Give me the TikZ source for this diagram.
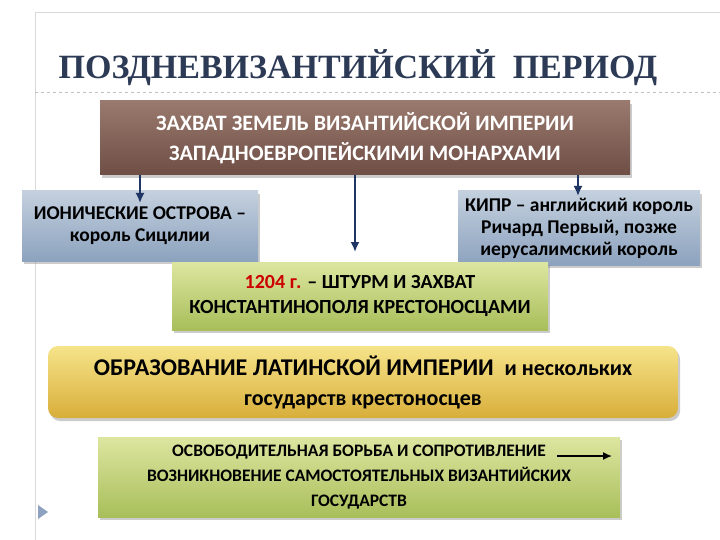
\documentclass[tikz,border=0pt]{standalone}
\usepackage{fontspec}
\setmainfont{Carlito}
\newfontfamily\titlefont{Liberation Serif}
\usetikzlibrary{shadows,arrows.meta}
\definecolor{brtop}{HTML}{9A7A6E}
\definecolor{brbot}{HTML}{6E4E45}
\definecolor{bltop}{HTML}{C4D0DE}
\definecolor{blbot}{HTML}{8CA2BE}
\definecolor{grtop}{HTML}{DDE6A0}
\definecolor{grbot}{HTML}{A8BE5A}
\definecolor{yetop}{HTML}{F6E48A}
\definecolor{yebot}{HTML}{D8AE3A}
\definecolor{ttl}{HTML}{2C3A55}
\definecolor{arrc}{HTML}{1F3563}
\begin{document}
\begin{tikzpicture}[x=1pt,y=-1pt,
 box/.style={draw=none,align=center,font=\bfseries\fontsize{22}{30}\selectfont,inner sep=2pt,drop shadow={shadow xshift=2pt,shadow yshift=-3pt,opacity=0.4}},
 arr/.style={-{Latex[length=10pt,width=9pt]},line width=1.8pt,draw=arrc}]
\useasboundingbox (0,0) rectangle (720,540);
\fill[white] (0,0) rectangle (720,540);
\draw[gray!30] (35,12) -- (720,12);
\draw[gray!30] (35,12) -- (35,540);
\draw[gray!50,dashed] (35,92) -- (720,92);
\node[font=\titlefont\bfseries\fontsize{34}{40}\selectfont,text=ttl] (title) at (358,68) {ПОЗДНЕВИЗАНТИЙСКИЙ\ \ ПЕРИОД};
\node[box,minimum width=530pt,minimum height=74pt,top color=brtop,bottom color=brbot,text=white] (cap) at (365,138) {ЗАХВАТ ЗЕМЕЛЬ ВИЗАНТИЙСКОЙ ИМПЕРИИ\\ЗАПАДНОЕВРОПЕЙСКИМИ МОНАРХАМИ};
\node[box,minimum width=236pt,minimum height=70pt,top color=bltop,bottom color=blbot,font=\bfseries\fontsize{19.5}{22}\selectfont] (ion) at (140,226) {ИОНИЧЕСКИЕ ОСТРОВА --\\король Сицилии};
\node[box,minimum width=242pt,minimum height=74pt,top color=bltop,bottom color=blbot,font=\bfseries\fontsize{19.5}{22}\selectfont] (cyp) at (579,228) {КИПР -- английский король\\Ричард Первый, позже\\иерусалимский король};
\node[box,minimum width=376pt,minimum height=68pt,top color=grtop,bottom color=grbot,font=\bfseries\fontsize{20}{25}\selectfont] (sack) at (360,296) {\textcolor{red!80!black}{1204 г.} -- ШТУРМ И ЗАХВАТ\\КОНСТАНТИНОПОЛЯ КРЕСТОНОСЦАМИ};
\node[box,rounded corners=10pt,minimum width=630pt,minimum height=72pt,top color=yetop,bottom color=yebot,font=\bfseries\fontsize{24}{30}\selectfont] (lat) at (363,382) {ОБРАЗОВАНИЕ ЛАТИНСКОЙ ИМПЕРИИ\ \ {\fontsize{22}{30}\selectfont и нескольких}\\{\fontsize{22}{30}\selectfont государств крестоносцев}};
\node[box,minimum width=522pt,minimum height=80pt,top color=grtop,bottom color=grbot,font=\bfseries\fontsize{17.5}{25}\selectfont] (fight) at (359,477) {ОСВОБОДИТЕЛЬНАЯ БОРЬБА И СОПРОТИВЛЕНИЕ\hspace{62pt}\\ВОЗНИКНОВЕНИЕ САМОСТОЯТЕЛЬНЫХ ВИЗАНТИЙСКИХ\\ГОСУДАРСТВ};
\coordinate (a1) at (140,175); \coordinate (a1e) at (140,203);
\coordinate (a2) at (355,175); \coordinate (a2e) at (355,252);
\coordinate (a3) at (578,175); \coordinate (a3e) at (578,196);
\coordinate (f1) at (557,456); \coordinate (f2) at (612,456);
\draw[arr] (a1) -- (a1e);
\draw[arr] (a2) -- (a2e);
\draw[arr] (a3) -- (a3e);
\draw[-{Latex[length=9pt,width=8pt]},line width=1.5pt] (f1) -- (f2);
\fill[blbot] (38,505) -- (38,519) -- (48,512) -- cycle;
\end{tikzpicture}
\end{document}
